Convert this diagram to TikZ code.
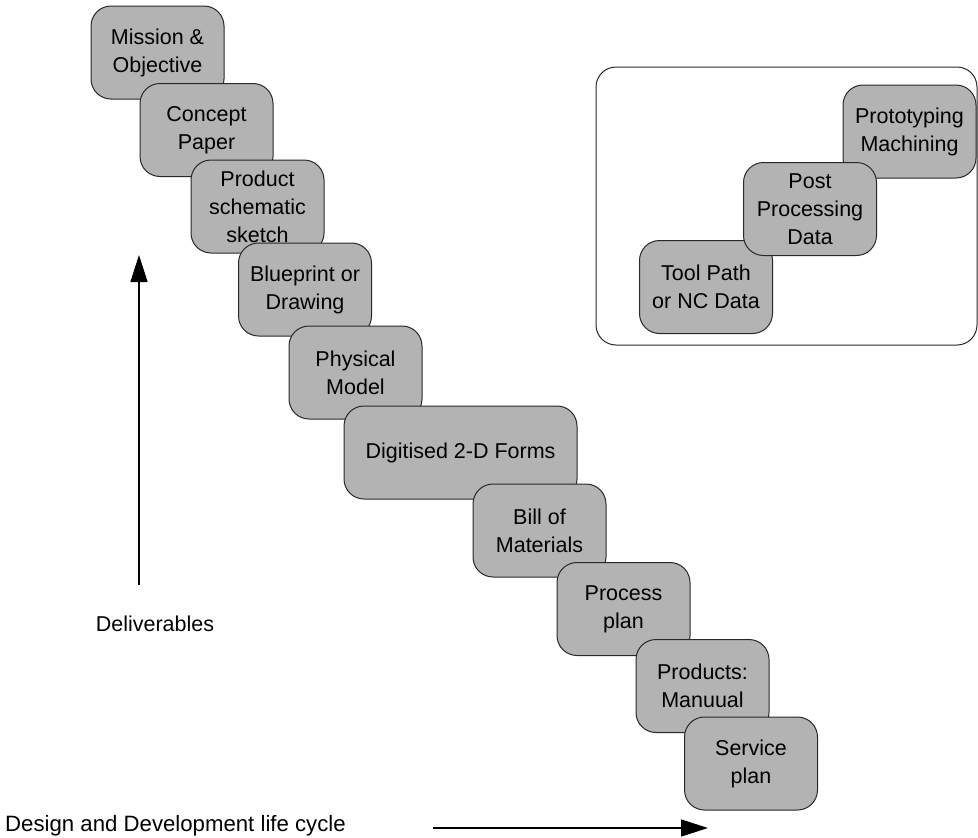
\documentclass[tikz,border=0pt]{standalone}
\usepackage{fontspec}
\setmainfont{Liberation Sans}
\usetikzlibrary{arrows.meta}
\definecolor{boxfill}{RGB}{179,179,179}
\definecolor{boxline}{RGB}{40,40,40}
\tikzset{
  stage/.style={draw=boxline, line width=1pt, fill=boxfill, rounded corners=20pt,
    minimum width=133pt, minimum height=93pt, inner sep=0pt, align=center,
    font=\fontsize{21.5}{28}\selectfont},
  label/.style={inner sep=0pt, font=\fontsize{21.5}{28}\selectfont},
  flow/.style={line width=1.5pt, -{Triangle[length=27pt,width=17pt]}}
}
\begin{document}
\begin{tikzpicture}[x=1pt,y=-1pt]
  \useasboundingbox (0,0) rectangle (978,838);

  % descending staircase of deliverables
  \node[stage] (mission)  at (157.5,52.5)  {Mission \&\\Objective};
  \node[stage] (concept)  at (206.5,130)   {Concept\\Paper};
  \node[stage] (schema)   at (257.5,206.5) {Product\\schematic\\sketch};
  \node[stage] (blue)     at (305,289.5)   {Blueprint or\\Drawing};
  \node[stage] (physical) at (355.5,372.5) {Physical\\Model};
  \node[stage, minimum width=233pt] (digit) at (460.5,452.5) {Digitised 2-D Forms};
  \node[stage] (bom)      at (539.5,530.5) {Bill of\\Materials};
  \node[stage] (process)  at (623.5,609)   {Process\\plan};
  \node[stage] (manual)   at (702.5,686)   {Products:\\Manuual};
  \node[stage] (service)  at (751,763.5)   {Service\\plan};

  % inset: manufacturing data chain
  \draw[draw=boxline, line width=1pt, rounded corners=20pt] (596,67) rectangle (977,345);
  \node[stage] (proto) at (909.5,131.5) {Prototyping\\Machining};
  \node[stage] (tool)  at (706,287)     {Tool Path\\or NC Data};
  \node[stage] (post)  at (810,209)     {Post\\Processing\\Data};

  % axes
  \coordinate (vstart) at (139,585);
  \coordinate (vend)   at (139,255);
  \draw[flow] (vstart) -- (vend);
  \node[label, anchor=base] (deliv) at (155,631) {Deliverables};

  \coordinate (hstart) at (433,828);
  \coordinate (hend)   at (708,828);
  \draw[flow] (hstart) -- (hend);
  \node[label, font=\fontsize{22.2}{28}\selectfont, anchor=base west] (cycle) at (5,831) {Design and Development life cycle};
\end{tikzpicture}
\end{document}
